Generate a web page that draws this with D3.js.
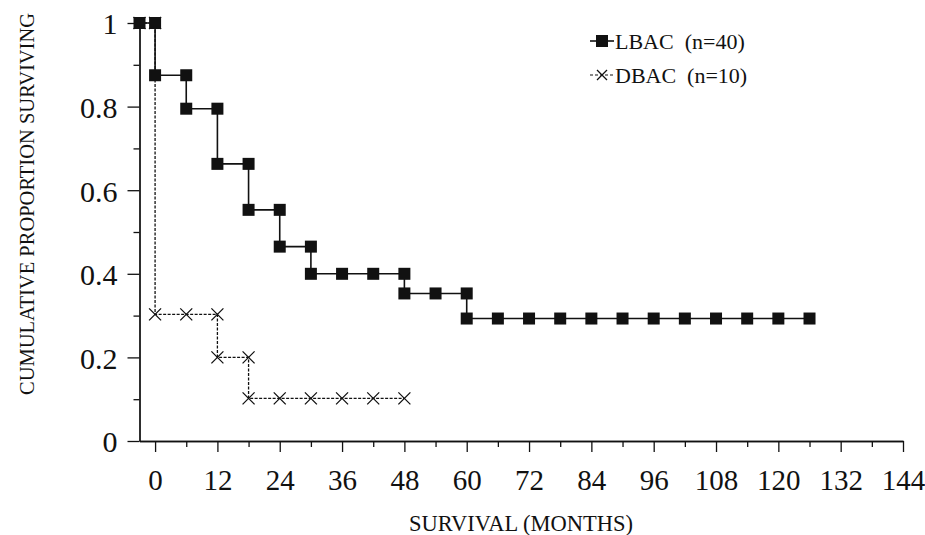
<!DOCTYPE html>
<html>
<head>
<meta charset="utf-8">
<script src="https://cdnjs.cloudflare.com/ajax/libs/d3/7.8.5/d3.min.js"></script>
<style>
  body { margin: 0; background: #fff; }
  svg text { font-family: "Liberation Serif", "DejaVu Serif", serif; fill: #111; }
  .axis path, .axis line { stroke: #111; stroke-width: 1.3; }
</style>
</head>
<body>
<div id="chart"></div>
<script>
// survival curves, points in drawing order (each step has both corners)
var lbacMonths = [-3, 0, 0, 6, 6, 12, 12, 18, 18, 24, 24, 30, 30, 36, 42, 48, 48, 54, 60, 60, 66, 72, 78, 84, 90, 96, 102, 108, 114, 120, 126];
var lbacSurv = [1, 1, 0.875, 0.875, 0.795, 0.795, 0.663, 0.663, 0.553, 0.553, 0.465, 0.465, 0.4, 0.4, 0.4, 0.4, 0.353, 0.353, 0.353, 0.293, 0.293, 0.293, 0.293, 0.293, 0.293, 0.293, 0.293, 0.293, 0.293, 0.293, 0.293];
var dbacMonths = [-3, 0, 0, 6, 12, 12, 18, 18, 24, 30, 36, 42, 48];
var dbacSurv = [1, 1, 0.303, 0.303, 0.303, 0.2, 0.2, 0.102, 0.102, 0.102, 0.102, 0.102, 0.102];

var xMajor = [0, 12, 24, 36, 48, 60, 72, 84, 96, 108, 120, 132, 144];
var xMinor = [6, 18, 30, 42, 54, 66, 78, 90, 102, 114, 126, 138];
var yMajor = [0, 0.2, 0.4, 0.6, 0.8, 1];
var yMinor = [0.1, 0.3, 0.5, 0.7, 0.9];
var yLabels = ["0", "0.2", "0.4", "0.6", "0.8", "1"];

var legendNames = ["LBAC  (n=40)", "DBAC  (n=10)"];

var W = 925, H = 535;

var svg = d3.select('#chart').append('svg')
  .attr('width', W)
  .attr('height', H);

var x = d3.scaleLinear().domain([-3, 144]).range([139.5, 903]);
var y = d3.scaleLinear().domain([0, 1]).range([441, 23]);

// x axis, minor ticks first then labelled ones
svg.append('g').attr('class', 'axis')
  .attr('transform', 'translate(0,441)')
  .call(d3.axisBottom(x).tickValues(xMinor).tickSize(6).tickSizeOuter(0).tickFormat(''));
var gx = svg.append('g').attr('class', 'axis')
  .attr('transform', 'translate(0,441)')
  .call(d3.axisBottom(x).tickValues(xMajor).tickSize(11).tickSizeOuter(0).tickFormat(d3.format('d')));
gx.selectAll('text')
  .attr('y', 49).attr('dy', 0)
  .style('font-size', '29px');

// y axis
svg.append('g').attr('class', 'axis')
  .attr('transform', 'translate(139.5,0)')
  .call(d3.axisLeft(y).tickValues(yMinor).tickSize(6).tickSizeOuter(0).tickFormat(''));
var gy = svg.append('g').attr('class', 'axis')
  .attr('transform', 'translate(139.5,0)')
  .call(d3.axisLeft(y).tickValues(yMajor).tickSize(12).tickSizeOuter(0)
    .tickFormat(function (d, i) { return yLabels[i]; }));
gy.selectAll('text')
  .attr('x', -22)
  .attr('dy', '0.36em')
  .style('font-size', '30px');

// axis titles
svg.append('text')
  .attr('x', 521).attr('y', 531)
  .attr('text-anchor', 'middle')
  .style('font-size', '22.5px')
  .text('SURVIVAL (MONTHS)');
svg.append('text')
  .attr('transform', 'translate(34,204) rotate(-90)')
  .attr('text-anchor', 'middle')
  .style('font-size', '20.5px')
  .text('CUMULATIVE PROPORTION SURVIVING');

var line = d3.line()
  .x(function (d) { return x(d[0]); })
  .y(function (d) { return y(d[1]); });

var dbac = d3.zip(dbacMonths, dbacSurv);
var lbac = d3.zip(lbacMonths, lbacSurv);

// DBAC dashed with crosses
svg.append('path')
  .datum(dbac)
  .attr('d', line)
  .attr('fill', 'none')
  .attr('stroke', '#111')
  .attr('stroke-width', 1.3)
  .attr('stroke-dasharray', '3,1.5');

var cross = function (sel, s) {
  sel.append('path')
    .attr('d', 'M' + (-s) + ',' + (-s) + 'L' + s + ',' + s + 'M' + (-s) + ',' + s + 'L' + s + ',' + (-s))
    .attr('stroke', '#111')
    .attr('stroke-width', 1.3)
    .attr('fill', 'none');
};

svg.selectAll('g.dbac').data(dbac)
  .enter().append('g')
  .attr('class', 'dbac')
  .attr('transform', function (d) { return 'translate(' + x(d[0]) + ',' + y(d[1]) + ')'; })
  .call(cross, 6);

// LBAC solid with squares
svg.append('path')
  .datum(lbac)
  .attr('d', line)
  .attr('fill', 'none')
  .attr('stroke', '#111')
  .attr('stroke-width', 1.6);

svg.selectAll('rect.lbac').data(lbac)
  .enter().append('rect')
  .attr('class', 'lbac')
  .attr('x', function (d) { return x(d[0]) - 6; })
  .attr('y', function (d) { return y(d[1]) - 6; })
  .attr('width', 12)
  .attr('height', 12)
  .attr('fill', '#111');

// legend
var lg = svg.append('g').attr('transform', 'translate(590,0)');
lg.append('line').attr('x1', 0).attr('x2', 24).attr('y1', 41).attr('y2', 41)
  .attr('stroke', '#111').attr('stroke-width', 1.6);
lg.append('rect').attr('x', 6).attr('y', 35).attr('width', 12).attr('height', 12).attr('fill', '#111');
lg.append('line').attr('x1', 0).attr('x2', 24).attr('y1', 75).attr('y2', 75)
  .attr('stroke', '#111').attr('stroke-width', 1.2).attr('stroke-dasharray', '3,2');
lg.append('g').attr('transform', 'translate(12,75)').call(cross, 5);

lg.selectAll('text.leg').data(legendNames)
  .enter().append('text')
  .attr('class', 'leg')
  .attr('x', 25)
  .attr('y', function (d, i) { return 41 + i * 34; })
  .attr('dy', '0.35em')
  .style('font-size', '22px')
  .style('white-space', 'pre')
  .text(function (d) { return d; });
</script>
</body>
</html>
